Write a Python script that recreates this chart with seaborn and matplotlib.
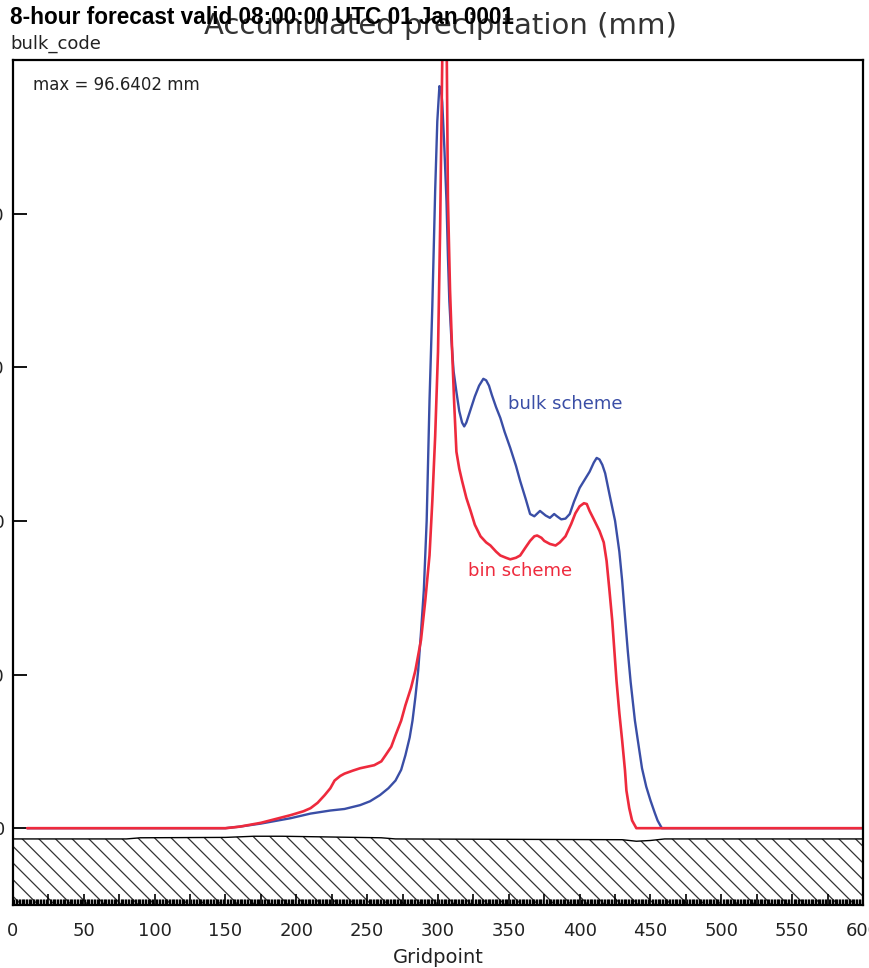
import numpy as np
import pandas as pd
import matplotlib
matplotlib.use("Agg")
import matplotlib.pyplot as plt
from matplotlib.ticker import MultipleLocator, FuncFormatter
import seaborn as sns

# ---- data ----
bulk_x = [10, 150, 160, 175, 196, 210, 224, 234, 245, 252, 259, 265, 270, 274, 277, 280, 282, 284,
          286, 288, 290, 292, 294, 296, 298, 299.5, 301, 302, 303, 304.5, 306, 307, 308, 309.5, 311,
          313, 315, 317, 318.5, 320, 323, 326, 329, 332, 334, 336, 338, 341, 344, 347, 351, 355, 358,
          362, 365, 368, 372, 376, 379, 382, 384, 387, 390, 393, 396, 400, 403, 407, 410, 412, 414,
          416, 418, 421, 425, 428, 430, 432, 434, 436, 439, 441, 444, 447, 450, 453, 455, 458, 600]
bulk_y = [0.0, 0.0, 0.2, 0.6, 1.3, 1.9, 2.3, 2.5, 3.0, 3.5, 4.3, 5.2, 6.2, 7.6, 9.5, 11.8, 14.0, 17.0,
          20.5, 25.5, 31.0, 40.0, 55.6, 68.0, 83.0, 92.0, 96.6, 96.3, 94.5, 88.5, 81.6, 74.5, 68.6, 63.5, 59.5,
          56.8, 54.3, 52.8, 52.3, 52.8, 54.5, 56.2, 57.6, 58.5, 58.3, 57.6, 56.4, 54.8, 53.4, 51.6, 49.5, 47.2, 45.2,
          42.8, 40.9, 40.6, 41.3, 40.7, 40.4, 40.9, 40.6, 40.2, 40.3, 40.9, 42.5, 44.3, 45.2, 46.4, 47.6, 48.2, 48.0,
          47.3, 46.2, 43.5, 40.0, 36.0, 32.2, 27.5, 23.0, 19.0, 14.0, 11.5, 7.8, 5.4, 3.6, 2.0, 1.0, 0.0, 0.0]

bin_x = [10, 150, 160, 175, 196, 205, 210, 215, 220, 224, 227, 231, 234, 240, 245, 250, 255, 260, 263,
         267, 270, 274, 277, 281, 284, 288, 291, 294, 296, 298, 300, 301.5, 303, 304.5, 306, 307,
         308.5, 310, 311.5, 313, 315, 317, 320, 323, 326, 330, 334, 337, 341, 344, 348, 351, 355,
         358, 362, 365, 368, 370, 373, 375, 379, 383, 386, 390, 394, 397, 400, 403, 405, 407, 410,
         414, 417, 419, 421, 423, 426, 428, 430, 432, 433, 435, 437, 440, 600]
bin_y = [0.0, 0.0, 0.2, 0.7, 1.7, 2.2, 2.6, 3.3, 4.3, 5.2, 6.2, 6.8, 7.1, 7.5, 7.8, 8.0, 8.2, 8.7, 9.5,
         10.6, 12.1, 14.0, 16.0, 18.3, 20.5, 24.5, 29.6, 35.5, 42.6, 51.0, 62.0, 78.0, 100.0, 135.0, 105.0, 82.0,
         70.0, 62.0, 55.0, 49.0, 46.8, 45.2, 43.0, 41.3, 39.5, 38.0, 37.2, 36.8, 36.0, 35.5, 35.2, 35.0, 35.2,
         35.5, 36.6, 37.4, 38.0, 38.1, 37.8, 37.4, 37.0, 36.8, 37.2, 38.0, 39.6, 41.0, 41.9, 42.3, 42.2, 41.3, 40.2,
         38.7, 37.2, 34.8, 31.0, 27.0, 19.2, 15.0, 11.4, 7.5, 4.9, 2.6, 1.0, 0.0, 0.0]

terrain_x = [0, 80, 90, 150, 170, 190, 260, 270, 430, 440, 450, 460, 600]
terrain_y = [-1.4, -1.4, -1.25, -1.2, -1.05, -1.05, -1.25, -1.4, -1.5, -1.7, -1.6, -1.4, -1.4]

x_ticks = list(range(0, 601, 50))
y_ticks = [0, 20, 40, 60, 80]

title_left = "8-hour forecast valid 08:00:00 UTC 01 Jan 0001"
title_center = "Accumulated precipitation (mm)"
subtitle = "bulk_code"
max_text = "max = 96.6402 mm"

sns.set_theme(style="white")
plt.rcParams["font.family"] = ["DejaVu Sans"]
plt.rcParams["hatch.linewidth"] = 0.9
plt.rcParams["xtick.bottom"] = True
plt.rcParams["ytick.left"] = True

fig = plt.figure(figsize=(8.7, 9.68), dpi=100)
ax = fig.add_axes([13 / 870, 1 - 905 / 968, 850 / 870, 845 / 968])
ax.set_axisbelow(False)

bulk = pd.DataFrame({"Gridpoint": bulk_x, "precip": bulk_y})
binn = pd.DataFrame({"Gridpoint": bin_x, "precip": bin_y})

# terrain (hatched)
ax.fill_between(terrain_x, -10, terrain_y, facecolor="white", edgecolor="#333333",
                hatch="\\\\", linewidth=0, zorder=1)
ax.plot(terrain_x, terrain_y, color="black", lw=1.0, zorder=2)

sns.lineplot(data=bulk, x="Gridpoint", y="precip", ax=ax, color="#3a4ea6", lw=1.7,
             estimator=None, sort=False, zorder=3, solid_joinstyle="round")
sns.lineplot(data=binn, x="Gridpoint", y="precip", ax=ax, color="#ee2a3d", lw=1.9,
             estimator=None, sort=False, zorder=4, solid_joinstyle="round")

ax.set_xlim(0, 600)
ax.set_ylim(-10, 100)

ax.xaxis.set_major_locator(MultipleLocator(25))
ax.xaxis.set_minor_locator(MultipleLocator(1))
ax.xaxis.set_major_formatter(FuncFormatter(lambda v, p: f"{int(round(v))}" if int(round(v)) % 50 == 0 else ""))
ax.set_yticks(y_ticks)
ax.tick_params(axis="x", which="major", direction="in", length=8, width=1.2, color="black",
               labelsize=13, pad=12, bottom=True)
ax.tick_params(axis="x", which="minor", direction="in", length=4, width=1.0, color="black",
               bottom=True)
ax.tick_params(axis="y", which="major", direction="in", length=10, width=1.3, color="black",
               labelsize=13, pad=6, left=True)
for lab in ax.get_xticklabels() + ax.get_yticklabels():
    lab.set_color("#222222")

for s in ax.spines.values():
    s.set_visible(True)
    s.set_color("black")
    s.set_linewidth(1.6)
    s.set_zorder(6)

ax.set_xlabel("Gridpoint", fontsize=14, color="#222222", labelpad=6)
ax.set_ylabel("")

ax.text(0.0235, 0.970, max_text, transform=ax.transAxes, fontsize=12, color="#222222",
        ha="left", va="center")
ax.text(349.5, 55.2, "bulk scheme", color="#3a4ea6", fontsize=13, ha="left", va="center")
ax.text(321, 33.5, "bin scheme", color="#ee2a3d", fontsize=13, ha="left", va="center")

fig.text(440 / 870, 1 - 26 / 968, title_center, fontsize=21, color="#333333",
         ha="center", va="center", zorder=1)
fig.text(10 / 870, 1 - 18 / 968, title_left, fontsize=16.3, fontweight="bold",
         family=["Liberation Sans", "DejaVu Sans"], color="black",
         ha="left", va="center", zorder=5)
fig.text(10 / 870, 1 - 44 / 968, subtitle, fontsize=13, color="#222222", ha="left", va="center")

fig.savefig("out.png", dpi=100, facecolor="white")
